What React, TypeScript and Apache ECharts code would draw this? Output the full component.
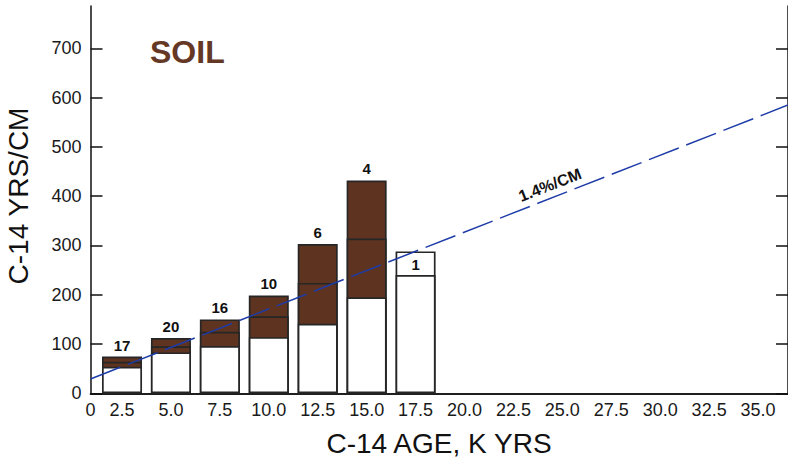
import React, { useEffect, useRef } from "react";
import * as echarts from "echarts";

// ---- data ----
const binCenters = [2.5, 5.0, 7.5, 10.0, 12.5, 15.0, 17.5];
const lowVals = [54, 83, 96, 114, 141, 195, 240];
const meanVals: (number | null)[] = [64, 95.5, 125, 156.5, 224, 314, null];
const highVals = [74.5, 112, 150, 198.5, 303, 432, 288];
const counts = [17, 20, 16, 10, 6, 4, 1];

const xTickValues = [0.89, 2.5, 5.0, 7.5, 10.0, 12.5, 15.0, 17.5, 20.0, 22.5, 25.0, 27.5, 30.0, 32.5, 35.0];
const xTickLabels = ["0", "2.5", "5.0", "7.5", "10.0", "12.5", "15.0", "17.5", "20.0", "22.5", "25.0", "27.5", "30.0", "32.5", "35.0"];
const yTickValues = [0, 100, 200, 300, 400, 500, 600, 700];

const trendStart = [0.89, 29];
const trendEnd = [36.53, 585];

const X_MIN = 0.89;
const X_MAX = 36.53;
const Y_MAX = 786;

const BROWN = "#5E3421";
const EDGE = "#262626";
const FONT = "'Liberation Sans', Arial, Helvetica, sans-serif";

export default function App() {
  const ref = useRef<HTMLDivElement>(null);
  useEffect(() => {
    if (!ref.current) return;
    const chart = echarts.init(ref.current, undefined, { renderer: "svg" });

    const highData = binCenters.map((x, i) => {
      const single = meanVals[i] == null;
      return {
        value: [x, highVals[i]],
        itemStyle: { color: single ? "#ffffff" : BROWN },
        label: single
          ? { show: true, position: "insideTop", distance: 6, formatter: String(counts[i]) }
          : { show: true, position: "top", distance: 4, formatter: String(counts[i]) },
      };
    });
    const meanData = binCenters.map((x, i) => ({ value: [x, meanVals[i]] }));
    const lowData = binCenters.map((x, i) => ({ value: [x, lowVals[i]] }));

    const barBase = {
      type: "bar",
      barWidth: 40,
      barGap: "-100%",
      itemStyle: { borderColor: EDGE, borderWidth: 1.7 },
      label: {
        fontFamily: FONT,
        fontWeight: "bold",
        fontSize: 15,
        color: "#111",
      },
    };

    const option: any = {
      animation: false,
      backgroundColor: "#ffffff",
      grid: { left: 90.5, top: 6, right: -3, bottom: 64.7, containLabel: false },
      xAxis: [
        {
          type: "value",
          min: X_MIN,
          max: X_MAX,
          position: "bottom",
          axisLine: { show: true, lineStyle: { color: "#111", width: 1.5 } },
          axisTick: { show: false },
          splitLine: { show: false },
          axisLabel: {
            customValues: xTickValues,
            formatter: (v: number) => {
              let best = 0;
              for (let i = 0; i < xTickValues.length; i++) {
                if (Math.abs(xTickValues[i] - v) < Math.abs(xTickValues[best] - v)) best = i;
              }
              return xTickLabels[best];
            },
            fontFamily: FONT,
            fontSize: 18,
            color: "#1a1a1a",
            margin: 8,
          },
        },
        {
          type: "value",
          min: X_MIN,
          max: X_MAX,
          position: "top",
          axisLine: { show: true, lineStyle: { color: "#111", width: 1.5 } },
          axisTick: { show: false },
          axisLabel: { show: false },
          splitLine: { show: false },
        },
      ],
      yAxis: [
        {
          type: "value",
          min: 0,
          max: Y_MAX,
          position: "left",
          axisLine: { show: true, lineStyle: { color: "#111", width: 1.5 } },
          axisTick: {
            show: true,
            inside: true,
            length: 12,
            customValues: yTickValues,
            lineStyle: { color: "#111", width: 1.5 },
          },
          axisLabel: {
            customValues: yTickValues,
            fontFamily: FONT,
            fontSize: 18,
            color: "#1a1a1a",
            margin: 9,
          },
          splitLine: { show: false },
        },
        {
          type: "value",
          min: 0,
          max: Y_MAX,
          position: "right",
          axisLine: { show: true, lineStyle: { color: "#111", width: 1.5 } },
          axisTick: {
            show: true,
            inside: true,
            length: 12,
            customValues: yTickValues,
            lineStyle: { color: "#111", width: 1.5 },
          },
          axisLabel: { show: false },
          splitLine: { show: false },
        },
      ],
      series: [
        { ...barBase, name: "high", data: highData, itemStyle: { ...barBase.itemStyle, color: BROWN } },
        { ...barBase, name: "mean", data: meanData, itemStyle: { ...barBase.itemStyle, color: BROWN } },
        { ...barBase, name: "low", data: lowData, itemStyle: { ...barBase.itemStyle, color: "#ffffff" } },
        {
          type: "line",
          name: "trend",
          data: [trendStart, trendEnd],
          symbol: "none",
          z: 10,
          lineStyle: { color: "#1E3CA8", width: 1.5, type: [32, 8] },
        },
      ],
      graphic: [
        {
          type: "text",
          left: 150,
          top: 36,
          style: {
            text: "SOIL",
            font: `bold 32px ${FONT}`,
            fill: "#653825",
          },
        },
        {
          type: "text",
          x: 550,
          y: 185,
          rotation: 0.372,
          style: {
            text: "1.4%/CM",
            font: `bold 16px ${FONT}`,
            fill: "#111",
            align: "center",
            verticalAlign: "middle",
          },
        },
        {
          type: "text",
          x: 439,
          y: 443,
          style: {
            text: "C-14 AGE, K YRS",
            font: `28px ${FONT}`,
            fill: "#111",
            align: "center",
            verticalAlign: "middle",
          },
        },
        {
          type: "text",
          x: 18,
          y: 196,
          rotation: Math.PI / 2,
          style: {
            text: "C-14 YRS/CM",
            font: `28px ${FONT}`,
            fill: "#111",
            align: "center",
            verticalAlign: "middle",
          },
        },
      ],
    };

    chart.setOption(option);
    return () => chart.dispose();
  }, []);

  return (
    <div
      ref={ref}
      style={{ position: "absolute", left: 0, top: 0, width: 788, height: 458, background: "#fff" }}
    />
  );
}
